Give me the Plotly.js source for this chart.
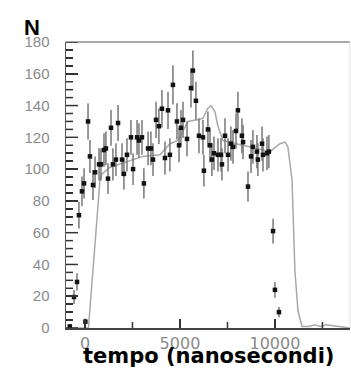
<!DOCTYPE html>
<html>
<head>
<meta charset="utf-8">
<script src="https://cdn.plot.ly/plotly-3.0.1.min.js"></script>
<style>html,body{margin:0;padding:0;background:#fff;}#chart{width:351px;height:370px;}</style>
</head>
<body>
<div id="chart"></div>
<script>
// Measured data (time in ns, counts N)
var dataX = [-800, -580, -420, -320, -160, -50, 20, 160, 260, 420, 530, 740, 840, 1000, 1100, 1210, 1370, 1470, 1630, 1740, 1950, 2050, 2210, 2420, 2530, 2740, 2840, 3000, 3100, 3320, 3470, 3580, 3740, 3890, 4050, 4210, 4370, 4470, 4630, 4840, 4950, 5050, 5160, 5370, 5580, 5680, 5840, 6000, 6210, 6260, 6470, 6580, 6680, 6790, 7000, 7160, 7210, 7370, 7530, 7680, 7790, 7950, 8050, 8260, 8320, 8580, 8740, 8840, 9050, 9100, 9320, 9370, 9580, 9680, 9900, 10000, 10210];
var dataY = [1, 19.5, 29, 71, 86, 91, 4, 130, 108, 90, 98, 103, 103, 112, 113, 94, 126, 103, 106, 129, 106, 97, 109, 120, 100, 120, 118, 120, 91, 113, 113, 106, 131, 127, 138, 107, 137, 109, 153, 130, 115, 126, 131, 119, 151, 162, 143, 121, 120, 99, 125, 115, 106, 110, 109, 109, 103, 121, 109, 116, 114, 124, 137, 121, 117, 89, 108, 114, 111, 106, 116, 109, 110, 111, 61, 24, 10];

// Simulation curve
var simX = [-1000, 180, 790, 900, 1300, 2000, 3050, 3950, 4470, 4900, 5420, 5900, 6210, 6450, 6630, 6840, 7000, 7260, 8000, 8790, 9740, 10260, 10530, 10680, 10840, 10900, 11050, 11210, 11420, 11800, 12100, 12400, 12700, 13950];
var simY = [0, 0, 93, 97, 101, 104, 108, 109, 116, 118, 130, 131, 132, 138, 140, 136, 127, 118, 116, 114, 111, 116, 117, 114, 101, 93, 36, 11, 1, 1, 2, 1, 2, 0];

// Axis ticks
var xTickVals = [0, 5000, 10000];
var xTickText = ['0', '5000', '10000'];
var xMinorVals = [2500, 7500, 12500];
var yTickVals = [0, 20, 40, 60, 80, 100, 120, 140, 160, 180];
var yMinorVals = [5, 10, 15, 25, 30, 35, 45, 50, 55, 65, 70, 75, 85, 90, 95, 105, 110, 115, 125, 130, 135, 145, 150, 155, 165, 170, 175];

var traces = [
  {x: simX, y: simY, type: 'scatter', mode: 'lines',
   line: {color: '#a8a8a8', width: 1.5}},
  {x: dataX, y: dataY, type: 'scatter', mode: 'markers',
   marker: {symbol: 'square', size: 4.5, color: '#111'},
   error_y: {type: 'sqrt', visible: true, color: '#777', thickness: 1.5, width: 0}}
];

var tickColor = '#333';
var shapes = [
  {type: 'line', xref: 'paper', yref: 'paper', x0: 0, x1: 1, y0: 1, y1: 1, line: {color: '#aaa', width: 2}},
  {type: 'line', xref: 'paper', yref: 'paper', x0: 1, x1: 1, y0: 0, y1: 1, line: {color: '#ddd', width: 1}}
];
function yTick(v, len) {
  return {type: 'line', xref: 'paper', xsizemode: 'pixel', xanchor: 0, x0: 0, x1: len,
          yref: 'y', y0: v, y1: v, line: {color: tickColor, width: 1.5}};
}
function xTick(v, len) {
  return {type: 'line', yref: 'y', ysizemode: 'pixel', yanchor: 0, y0: 0, y1: len,
          xref: 'x', x0: v, x1: v, line: {color: tickColor, width: 1.5}};
}
yTickVals.forEach(function (v) { shapes.push(yTick(v, 12)); });
yMinorVals.forEach(function (v) { shapes.push(yTick(v, 7)); });
xTickVals.forEach(function (v) { shapes.push(xTick(v, 9)); });
xMinorVals.forEach(function (v) { shapes.push(xTick(v, 6)); });

var layout = {
  width: 351, height: 370,
  margin: {l: 66, r: 1, t: 42, b: 42},
  paper_bgcolor: '#fff', plot_bgcolor: '#fff',
  showlegend: false,
  xaxis: {
    range: [-1000, 13950], showgrid: false, zeroline: false,
    tickmode: 'array', tickvals: xTickVals, ticktext: xTickText,
    ticks: 'inside', ticklen: 9, tickwidth: 1.5, tickcolor: tickColor,
    minor: {tickmode: 'array', tickvals: xMinorVals, ticks: 'inside', ticklen: 6, tickwidth: 1.5, tickcolor: tickColor},
    showline: true, linecolor: '#444', linewidth: 1.5,
    tickfont: {family: 'DejaVu Sans', size: 16, color: '#8a8a8a'}
  },
  yaxis: {
    range: [0, 180], showgrid: false, zeroline: false,
    tickmode: 'array', tickvals: yTickVals,
    ticks: 'inside', ticklen: 12, tickwidth: 1.5, tickcolor: tickColor,
    minor: {tickmode: 'array', tickvals: yMinorVals, ticks: 'inside', ticklen: 7, tickwidth: 1.5, tickcolor: tickColor},
    showline: true, linecolor: '#555', linewidth: 1.5,
    ticklabelstandoff: 12,
    tickfont: {family: 'Liberation Sans', size: 15, color: '#8a8a8a'}
  },
  shapes: shapes,
  annotations: [
    {text: '<b>N</b>', xref: 'paper', yref: 'paper', x: -0.12, y: 1.0, yshift: 15, xanchor: 'center', yanchor: 'middle',
     showarrow: false, font: {family: 'Liberation Sans', size: 22, color: '#000'}},
    {text: '<b>tempo (nanosecondi)</b>', xref: 'paper', yref: 'paper', x: 0.5, y: 0, yshift: -28, xanchor: 'center', yanchor: 'middle',
     showarrow: false, font: {family: 'DejaVu Sans', size: 21, color: '#000'}}
  ]
};

Plotly.newPlot('chart', traces, layout, {displayModeBar: false, staticPlot: true});
</script>
</body>
</html>
